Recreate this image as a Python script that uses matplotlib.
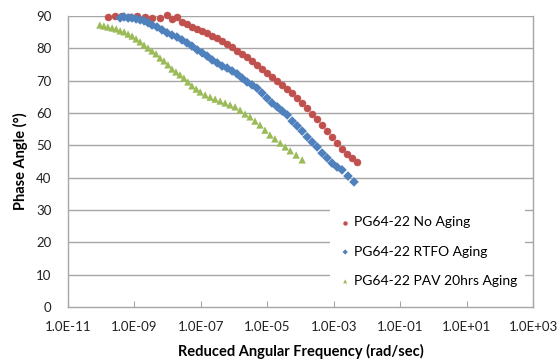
import numpy as np
import matplotlib
matplotlib.use("Agg")
import matplotlib.pyplot as plt
from matplotlib.ticker import FixedLocator, FixedFormatter, NullLocator

# ---- data (log10 of reduced angular frequency, phase angle in degrees) ----
no_aging_logf = [-9.80, -9.58, -9.37, -9.13, -8.92, -8.68, -8.47, -8.23, -8.02, -7.87, -7.72,
                 -7.57, -7.42, -7.27, -7.11, -6.96, -6.81, -6.66, -6.51, -6.36, -6.21, -6.06,
                 -5.91, -5.76, -5.61, -5.46, -5.31, -5.16, -5.01, -4.86, -4.70, -4.55, -4.40,
                 -4.25, -4.10, -3.95, -3.80, -3.65, -3.50, -3.35, -3.20, -3.05, -2.90, -2.75,
                 -2.60, -2.45, -2.30]
no_aging_phase = [89.7, 90.0, 90.0, 89.7, 90.0, 89.7, 89.4, 89.4, 90.3, 89.1, 89.7,
                  88.2, 87.5, 86.6, 86.0, 85.4, 84.8, 83.8, 83.2, 82.3, 81.3, 80.4,
                  79.2, 78.3, 77.3, 76.1, 74.9, 73.6, 72.4, 71.1, 69.9, 68.7, 67.4,
                  66.2, 64.6, 63.1, 61.6, 59.7, 58.2, 56.3, 54.4, 52.6, 50.7, 48.9,
                  47.3, 46.1, 44.8]

rtfo_logf = [-9.43, -9.31, -9.19, -9.07, -8.95, -8.83, -8.71, -8.59, -8.47, -8.32, -8.17,
             -8.02, -7.87, -7.72, -7.57, -7.42, -7.27, -7.11, -6.96, -6.81, -6.66, -6.51,
             -6.36, -6.21, -6.06, -5.91, -5.76, -5.61, -5.46, -5.31, -5.16, -5.01, -4.86,
             -4.70, -4.55, -4.40, -4.25, -4.10, -3.95, -3.80, -3.65, -3.50, -3.35, -3.20,
             -3.05, -2.90, -2.75, -2.57, -2.39]
rtfo_phase = [89.4, 89.7, 89.4, 89.4, 89.1, 88.8, 88.5, 87.9, 87.2, 86.6, 85.7,
              84.8, 84.1, 83.5, 82.6, 81.7, 80.7, 79.5, 78.6, 77.6, 76.4, 75.5,
              74.5, 73.9, 73.0, 72.1, 70.8, 69.6, 68.7, 67.7, 66.2, 64.6, 63.1,
              61.9, 60.6, 59.4, 57.5, 56.0, 54.4, 52.6, 51.0, 49.5, 47.6, 46.1,
              44.5, 43.3, 42.4, 40.5, 38.7]

pav_logf = [-10.04, -9.92, -9.80, -9.67, -9.55, -9.43, -9.31, -9.19, -9.07, -8.95, -8.83,
            -8.71, -8.59, -8.47, -8.35, -8.23, -8.11, -7.99, -7.87, -7.75, -7.63, -7.51,
            -7.39, -7.27, -7.14, -7.02, -6.87, -6.72, -6.57, -6.42, -6.27, -6.12, -5.97,
            -5.82, -5.67, -5.52, -5.37, -5.22, -5.07, -4.92, -4.77, -4.61, -4.46, -4.31,
            -4.13, -3.95]
pav_phase = [87.2, 86.9, 86.6, 86.3, 86.0, 85.4, 85.1, 84.4, 83.8, 82.9, 82.0,
             81.0, 80.1, 79.2, 78.3, 77.0, 76.1, 74.9, 73.6, 72.7, 71.8, 70.8,
             69.6, 68.4, 67.4, 66.5, 65.6, 64.9, 64.3, 63.7, 63.1, 62.5, 61.9,
             60.9, 59.7, 58.8, 57.5, 56.3, 54.7, 53.2, 52.0, 50.7, 49.5, 48.3,
             47.0, 45.5]

series_labels = ["PG64-22 No Aging", "PG64-22 RTFO Aging", "PG64-22 PAV 20hrs Aging"]
x_tick_exps = [-11, -9, -7, -5, -3, -1, 1, 3]
x_tick_labels = ["1.0E-11", "1.0E-09", "1.0E-07", "1.0E-05", "1.0E-03", "1.0E-01", "1.0E+01", "1.0E+03"]
y_ticks = [0, 10, 20, 30, 40, 50, 60, 70, 80, 90]

plt.rcParams['font.family'] = ['Lato', 'DejaVu Sans']

fig = plt.figure(figsize=(5.6, 3.61), dpi=100)
ax = fig.add_axes([68/560, 1 - 307/361, (533-68)/560, (307-16)/361])

grid_c = "#a6a6a6"
ax.set_xscale('log')
ax.set_xlim(1e-11, 1e3)
ax.set_ylim(0, 90)

for v in y_ticks[1:]:
    ax.axhline(v, color=grid_c, lw=1.0, zorder=1)

red, blue, green = "#C0504D", "#4F81BD", "#9BBB59"
ax.scatter(10**np.array(no_aging_logf), no_aging_phase, s=26, marker='o', color=red,
           edgecolors=red, linewidths=0.3, label=series_labels[0], zorder=3, clip_on=False)
ax.scatter(10**np.array(rtfo_logf), rtfo_phase, s=24, marker='D', color=blue,
           edgecolors='none', label=series_labels[1], zorder=3, clip_on=False)
ax.scatter(10**np.array(pav_logf), pav_phase, s=28, marker='^', color=green,
           edgecolors='none', label=series_labels[2], zorder=3, clip_on=False)

ax.xaxis.set_major_locator(FixedLocator([10.0**e for e in x_tick_exps]))
ax.xaxis.set_major_formatter(FixedFormatter(x_tick_labels))
ax.xaxis.set_minor_locator(NullLocator())
ax.set_yticks(y_ticks)

ax.tick_params(axis='x', direction='in', length=4, color=grid_c, labelsize=9.5,
               pad=10, labelcolor='#222222')
ax.tick_params(axis='y', length=0, labelsize=9.5, pad=12, labelcolor='#222222')

for sp in ax.spines.values():
    sp.set_color(grid_c)
    sp.set_linewidth(1.0)
ax.spines['top'].set_visible(False)

ax.set_xlabel("Reduced Angular Frequency (rad/sec)", fontsize=10.5, fontweight='bold', labelpad=8)
ax.set_ylabel("Phase Angle (°)", fontsize=10.5, fontweight='bold', labelpad=6)

leg = ax.legend(loc='lower right', bbox_to_anchor=(0.983, 0.04), frameon=True,
                framealpha=1, edgecolor='none', facecolor='white', fontsize=10,
                markerscale=0.55, handletextpad=0.1, labelspacing=1.25,
                borderpad=0.6, handlelength=1.0, borderaxespad=0)
leg.get_frame().set_boxstyle('square', pad=0)
leg.set_zorder(5)

fig.savefig("out.png", dpi=100)
